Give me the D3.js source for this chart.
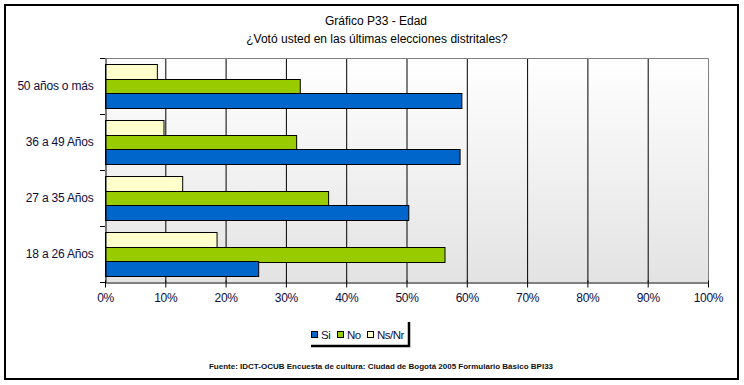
<!DOCTYPE html>
<html>
<head>
<meta charset="utf-8">
<script src="https://cdn.jsdelivr.net/npm/d3@7"></script>
<style>
  body { margin: 0; background: #fff; }
  svg { display: block; font-family: "Liberation Sans", Arial, sans-serif; }
</style>
</head>
<body>
<div id="chart"></div>
<script>
// categorias de arriba hacia abajo
const categorias = ["50 años o más", "36 a 49 Años", "27 a 35 Años", "18 a 26 Años"]
const series = ["Ns/Nr", "No", "Si"]            // orden dentro de cada grupo (arriba -> abajo)
const leyenda = ["Si", "No", "Ns/Nr"]
const valoresSi = [59.1, 58.8, 50.3, 25.4]
const valoresNo = [32.3, 31.7, 37.0, 56.3]
const valoresNsNr = [8.6, 9.7, 12.8, 18.5]
const ticksX = [0, 10, 20, 30, 40, 50, 60, 70, 80, 90, 100]
const colores = { "Si": "#0066cc", "No": "#99cc00", "Ns/Nr": "#ffffcc" }

const valores = { "Si": valoresSi, "No": valoresNo, "Ns/Nr": valoresNsNr }
const datos = categorias.map((c, i) => ({
  cat: c,
  vals: series.map(s => ({ serie: s, v: valores[s][i] }))
}))

const W = 744, H = 385
const plot = { left: 105, right: 708, top: 58, bottom: 282 }
const textoColor = "#0d0d40"

const svg = d3.select("#chart").append("svg").attr("width", W).attr("height", H)

// marco exterior
svg.append("rect")
  .attr("x", 5).attr("y", 5).attr("width", 733).attr("height", 374)
  .attr("fill", "#fff").attr("stroke", "#000").attr("stroke-width", 2)

// titulo
svg.append("text").attr("x", 376).attr("y", 25).attr("text-anchor", "middle")
  .attr("font-size", 12).text("Gráfico P33 - Edad")
svg.append("text").attr("x", 377).attr("y", 43).attr("text-anchor", "middle")
  .attr("font-size", 12).text("¿Votó usted en las últimas elecciones distritales?")

const x = d3.scaleLinear().domain([0, 100]).range([plot.left, plot.right])
const y = d3.scaleBand().domain(categorias).range([plot.top, plot.bottom])
const yIn = d3.scaleBand().domain(series).range([0, y.bandwidth()]).paddingInner(0).paddingOuter(0.42)

// fondo degradado
const grad = svg.append("defs").append("linearGradient")
  .attr("id", "fondo").attr("x1", 0).attr("y1", 0).attr("x2", 0).attr("y2", 1)
grad.append("stop").attr("offset", "0%").attr("stop-color", "#ffffff")
grad.append("stop").attr("offset", "100%").attr("stop-color", "#e3e3e3")

svg.append("rect")
  .attr("x", plot.left).attr("y", plot.top)
  .attr("width", plot.right - plot.left).attr("height", plot.bottom - plot.top)
  .attr("fill", "url(#fondo)")

// lineas de cuadricula
svg.append("g").selectAll("line")
  .data(ticksX.slice(1, -1))
  .join("line")
  .attr("x1", d => x(d) + 0.5).attr("x2", d => x(d) + 0.5)
  .attr("y1", plot.top).attr("y2", plot.bottom)
  .attr("stroke", "#000").attr("stroke-width", 1)

// borde gris arriba y derecha
svg.append("path")
  .attr("d", `M${plot.left},${plot.top + 0.5}H${plot.right + 0.5}V${plot.bottom}`)
  .attr("fill", "none").attr("stroke", "#808080")

// barras
const grupos = svg.append("g").selectAll("g")
  .data(datos)
  .join("g")
  .attr("transform", d => `translate(0,${y(d.cat)})`)

grupos.selectAll("rect")
  .data(d => d.vals)
  .join("rect")
  .attr("x", x(0) + 0.5)
  .attr("y", d => Math.round(yIn(d.serie)) + 0.5)
  .attr("width", d => x(d.v) - x(0))
  .attr("height", Math.round(yIn.bandwidth()))
  .attr("fill", d => colores[d.serie])
  .attr("stroke", "#000").attr("stroke-width", 1)

// eje X
const ejeX = svg.append("g")
  .attr("transform", `translate(0,${plot.bottom + 0.5})`)
  .call(d3.axisBottom(x).tickValues(ticksX).tickFormat(d => d + "%").tickSize(5).tickSizeOuter(0))
ejeX.select(".domain").attr("stroke", "#000")
ejeX.selectAll(".tick line").attr("y1", -2).attr("stroke", "#000")
ejeX.selectAll("text").attr("font-size", 12).attr("fill", textoColor)
  .attr("font-family", "Liberation Sans, Arial, sans-serif").attr("dy", "0.95em")
  .attr("letter-spacing", -0.3)

// eje Y
const ejeY = svg.append("g")
  .attr("transform", `translate(${plot.left + 0.5},0)`)
  .call(d3.axisLeft(y).tickSize(0).tickPadding(12))
ejeY.select(".domain").attr("stroke", "#000")
ejeY.selectAll("text").attr("font-size", 12).attr("fill", textoColor)
  .attr("font-family", "Liberation Sans, Arial, sans-serif").attr("letter-spacing", -0.2)
// marcas entre categorias
svg.append("g").selectAll("line")
  .data(categorias.concat([null]))
  .join("line")
  .attr("x1", plot.left - 5).attr("x2", plot.left)
  .attr("y1", (d, i) => plot.top + i * y.step() + 0.5)
  .attr("y2", (d, i) => plot.top + i * y.step() + 0.5)
  .attr("stroke", "#000")

// leyenda
const ley = svg.append("g")
svg.append("path").attr("d", "M409,322V346H311")
  .attr("fill", "none").attr("stroke", "#000").attr("stroke-width", 2.5)
const posLey = [311, 337, 367]
const item = ley.selectAll("g").data(leyenda).join("g")
  .attr("transform", (d, i) => `translate(${posLey[i]},331)`)
item.append("rect").attr("x", 0.5).attr("y", 0.5).attr("width", 6).attr("height", 6)
  .attr("fill", d => colores[d]).attr("stroke", "#000")
item.append("text").attr("x", 10).attr("y", 8).attr("font-size", 11.5)
  .attr("letter-spacing", -0.5)
  .attr("fill", textoColor).text(d => d)

// fuente
svg.append("text").attr("x", 381).attr("y", 369).attr("text-anchor", "middle")
  .attr("font-size", 8).attr("font-weight", "bold").attr("fill", "#111")
  .text("Fuente: IDCT-OCUB Encuesta de cultura: Ciudad de Bogotá 2005 Formulario Básico  BPI33")
</script>
</body>
</html>
